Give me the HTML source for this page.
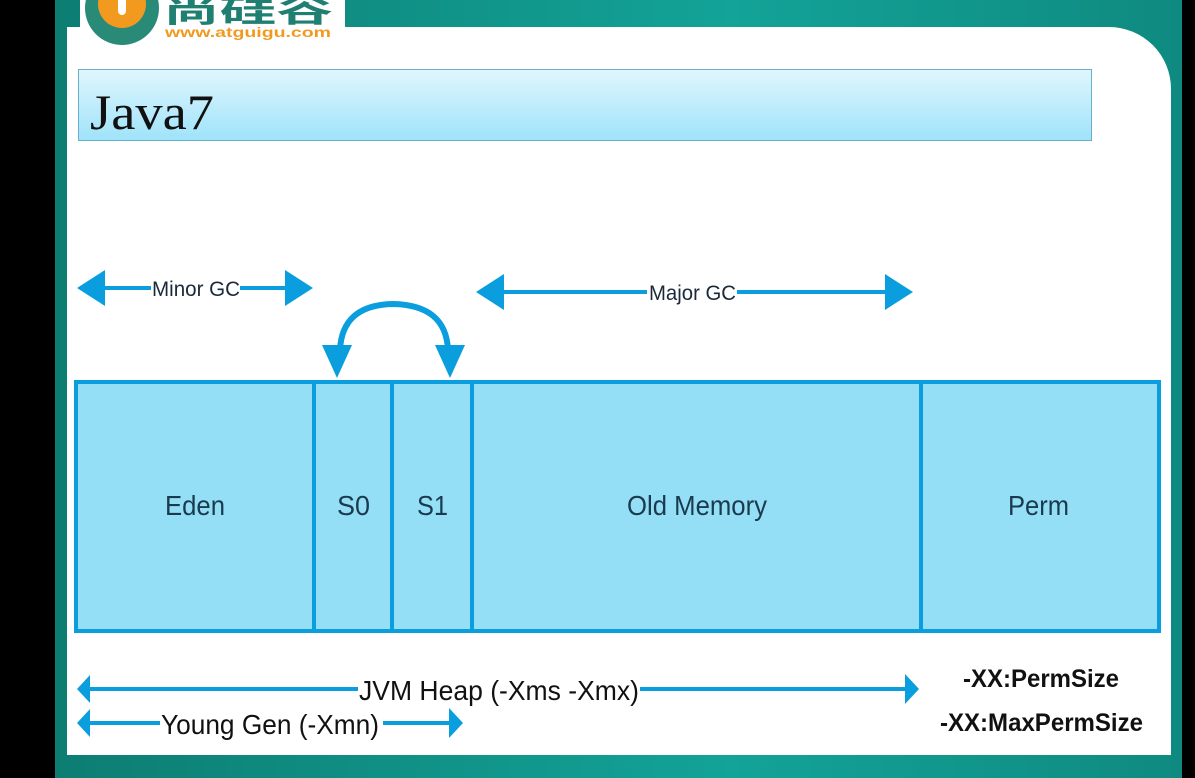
<!DOCTYPE html>
<html><head><meta charset="utf-8"><style>
html,body{margin:0;padding:0;width:1195px;height:778px;overflow:hidden;background:#000;}
.bg{position:absolute;left:55px;top:0;width:1127px;height:778px;background:linear-gradient(90deg,#0d7d72,#13a398 60%,#0f8a80);}
.panel{position:absolute;left:67px;top:27px;width:1104px;height:728px;background:#fff;border-top-right-radius:62px;}
svg{position:absolute;left:0;top:0;}
</style></head><body>
<div class="bg"></div>
<div class="panel"></div>
<svg width="1195" height="778" xmlns="http://www.w3.org/2000/svg" font-family="Liberation Sans, sans-serif">
<defs><linearGradient id="tg" x1="0" y1="0" x2="0" y2="1"><stop offset="0" stop-color="#e0f6fd"/><stop offset="1" stop-color="#9fe3fa"/></linearGradient></defs>
<!-- logo -->
<rect x="80" y="0" width="265" height="27" fill="#fff"/>
<circle cx="122" cy="8" r="40" fill="#fff"/>
<circle cx="122" cy="8" r="37" fill="#2a8a78"/>
<circle cx="122" cy="4" r="24" fill="#f29a1f"/>
<rect x="118" y="-5" width="8" height="20" rx="4" fill="#fff"/>
<text x="163" y="22" font-size="30" fill="#1f7f70" font-family="Noto Sans CJK SC, sans-serif" font-weight="bold" textLength="170" lengthAdjust="spacingAndGlyphs">尚硅谷</text>
<text x="165" y="37" font-size="14" fill="#f29a1f" font-weight="bold" textLength="166" lengthAdjust="spacingAndGlyphs">www.atguigu.com</text>
<!-- title -->
<rect x="78.5" y="69.5" width="1013" height="71" fill="url(#tg)" stroke="#6ab0cc"/>
<text x="90" y="129" font-size="50" fill="#111" font-family="Liberation Serif, serif" textLength="124" lengthAdjust="spacingAndGlyphs">Java7</text>
<g fill="#0a9ede" stroke="none">
<polygon points="77,288 105,270 105,306"/><rect x="103" y="286" width="48" height="4"/>
<rect x="240" y="286" width="48" height="4"/><polygon points="313,288 285,270 285,306"/>
<polygon points="476,292 504,274 504,310"/><rect x="502" y="290" width="145" height="4"/>
<rect x="737" y="290" width="150" height="4"/><polygon points="913,292 885,274 885,310"/>
<polygon points="322,345 352,345 337,378"/><polygon points="435,345 465,345 450,378"/>
<polygon points="77,689 90,675 90,703"/><rect x="88" y="687" width="270" height="4"/>
<rect x="640" y="687" width="265" height="4"/><polygon points="919,689 905,674 905,704"/>
<polygon points="77,723 90,709 90,737"/><rect x="88" y="721" width="72" height="4"/>
<rect x="383" y="721" width="67" height="4"/><polygon points="463,723 449,708 449,738"/>
</g>
<path d="M340,350 Q342,305 393,304 Q446,305 448,350" fill="none" stroke="#0a9ede" stroke-width="6"/>
<text x="152" y="296" font-size="21" fill="#1a2a3a" textLength="88" lengthAdjust="spacingAndGlyphs">Minor GC</text>
<text x="649" y="300" font-size="21" fill="#1a2a3a" textLength="87" lengthAdjust="spacingAndGlyphs">Major GC</text>
<rect x="76" y="382" width="1083" height="249" fill="#94dff5" stroke="#0a9ede" stroke-width="4"/>
<g stroke="#0a9ede" stroke-width="4"><line x1="314" y1="382" x2="314" y2="631"/><line x1="392" y1="382" x2="392" y2="631"/><line x1="472" y1="382" x2="472" y2="631"/><line x1="921" y1="382" x2="921" y2="631"/></g>
<g font-size="28" fill="#1a3a50">
<text x="165" y="515" textLength="60" lengthAdjust="spacingAndGlyphs">Eden</text>
<text x="337" y="515" textLength="33" lengthAdjust="spacingAndGlyphs">S0</text>
<text x="417" y="515" textLength="31" lengthAdjust="spacingAndGlyphs">S1</text>
<text x="627" y="515" textLength="140" lengthAdjust="spacingAndGlyphs">Old Memory</text>
<text x="1008" y="515" textLength="61" lengthAdjust="spacingAndGlyphs">Perm</text>
</g>
<g font-size="28" fill="#111">
<text x="359" y="700" textLength="280" lengthAdjust="spacingAndGlyphs">JVM Heap (-Xms -Xmx)</text>
<text x="161" y="734" textLength="218" lengthAdjust="spacingAndGlyphs">Young Gen (-Xmn)</text>
</g>
<g font-size="25" font-weight="bold" fill="#111">
<text x="963" y="687" textLength="156" lengthAdjust="spacingAndGlyphs">-XX:PermSize</text>
<text x="940" y="731" textLength="203" lengthAdjust="spacingAndGlyphs">-XX:MaxPermSize</text>
</g>
</svg>
</body></html>
